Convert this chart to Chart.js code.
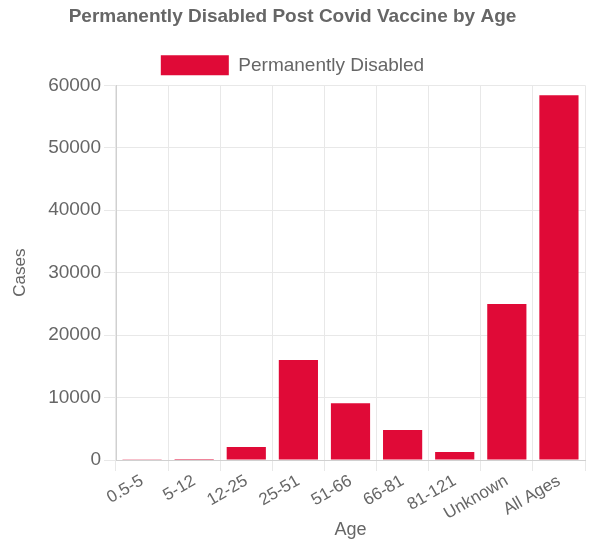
<!DOCTYPE html>
<html>
<head>
<meta charset="utf-8">
<script src="https://cdn.jsdelivr.net/npm/chart.js@4/dist/chart.umd.min.js"></script>
<style>
  html, body { margin: 0; padding: 0; background: #fff; }
  #wrap { width: 591px; height: 547px; }
</style>
</head>
<body>
<div id="wrap"><canvas id="c" width="591" height="547"></canvas></div>
<script>
// Age groups and the number of permanently disabled reports in each
const ageGroups = ['0.5-5', '5-12', '12-25', '25-51', '51-66', '66-81', '81-121', 'Unknown', 'All Ages'];
const disabledCases = [30, 150, 2100, 16000, 9100, 4800, 1300, 25000, 58400];
const yTicks = [0, 10000, 20000, 30000, 40000, 50000, 60000];

const grey = '#666';
const fontFamily = "'Liberation Sans', Arial, Helvetica, sans-serif";

new Chart(document.getElementById('c'), {
  type: 'bar',
  data: {
    labels: ageGroups,
    datasets: [{
      label: 'Permanently Disabled',
      data: disabledCases,
      backgroundColor: 'rgb(224, 10, 55)',
      borderWidth: 0,
      barPercentage: 0.94,
      categoryPercentage: 0.8
    }]
  },
  options: {
    responsive: false,
    animation: false,
    devicePixelRatio: 1,
    layout: { padding: { left: 0, right: 6, top: 0, bottom: 0 } },
    plugins: {
      title: {
        display: true,
        text: 'Permanently Disabled Post Covid Vaccine by Age',
        color: grey,
        font: { family: fontFamily, size: 19, weight: 'bold' },
        padding: { top: 5, bottom: 14 }
      },
      legend: {
        display: true,
        labels: {
          color: grey,
          boxWidth: 68,
          boxHeight: 20,
          font: { family: fontFamily, size: 19 },
          padding: 13.5
        }
      },
      tooltip: { enabled: false }
    },
    scales: {
      x: {
        afterFit: (axis) => { axis.height = 87; },
        grid: { color: '#e8e8e8', offset: true, tickLength: 11 },
        border: { color: '#d0d0d0' },
        ticks: {
          color: grey,
          font: { family: fontFamily, size: 17 },
          autoSkip: false,
          minRotation: 30,
          maxRotation: 30,
          padding: 0
        },
        title: {
          display: true,
          text: 'Age',
          color: grey,
          font: { family: fontFamily, size: 18 },
          padding: { top: 0, bottom: 6 }
        }
      },
      y: {
        min: 0,
        max: 60000,
        afterBuildTicks: (axis) => { axis.ticks = yTicks.map(v => ({ value: v })); },
        afterFit: (axis) => { axis.width = 116; },
        grid: { color: '#e8e8e8', tickLength: 12 },
        border: { color: '#d0d0d0' },
        ticks: {
          color: grey,
          font: { family: fontFamily, size: 19 },
          padding: 3,
          callback: (v) => String(v)
        },
        title: {
          display: true,
          text: 'Cases',
          color: grey,
          font: { family: fontFamily, size: 17 },
          padding: { top: 10, bottom: 0 }
        }
      }
    }
  }
});
</script>
</body>
</html>
